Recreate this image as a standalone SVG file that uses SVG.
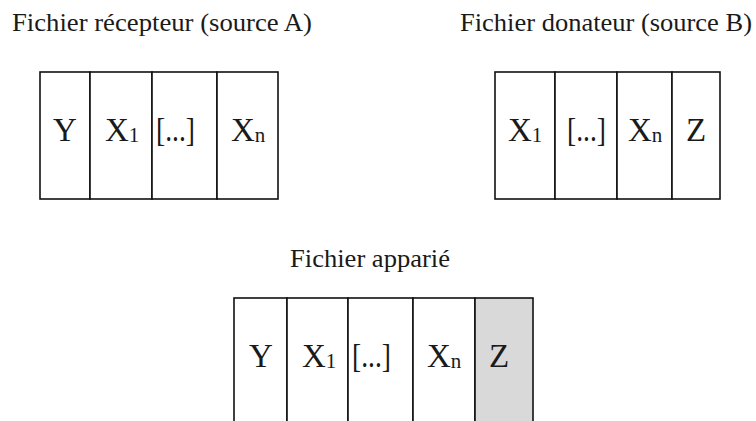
<svg xmlns="http://www.w3.org/2000/svg" width="756" height="421" viewBox="0 0 756 421">
<style>
.t{font-family:"Liberation Serif","Times New Roman",serif;font-size:25px;fill:#1a1a1a}
.l{font-family:"Liberation Serif","Times New Roman",serif;font-size:33px;fill:#1a1a1a}
.s{font-size:21px}
.c{fill:#fff;stroke:#111;stroke-width:1.6}
.g{fill:#d9d9d9;stroke:#111;stroke-width:1.6}
</style>
<rect width="756" height="421" fill="#fff"/>
<g id="source-a">
<text class="t" x="12" y="31" textLength="300" lengthAdjust="spacingAndGlyphs">Fichier récepteur (source A)</text>
<rect class="c" x="40" y="72" width="50" height="127"/>
<rect class="c" x="90" y="72" width="62" height="127"/>
<rect class="c" x="152" y="72" width="65" height="127"/>
<rect class="c" x="217" y="72" width="61" height="127"/>
<text class="l" x="65" y="141" text-anchor="middle">Y</text>
<text class="l" x="105" y="141">X<tspan class="s" dy="1">1</tspan></text>
<text class="l" x="156" y="141" textLength="39" lengthAdjust="spacingAndGlyphs">[...]</text>
<text class="l" x="231" y="141">X<tspan class="s" dy="1">n</tspan></text>
</g>
<g id="source-b">
<text class="t" x="460" y="31" textLength="292" lengthAdjust="spacingAndGlyphs">Fichier donateur (source B)</text>
<rect class="c" x="495" y="72" width="60" height="127"/>
<rect class="c" x="555" y="72" width="62" height="127"/>
<rect class="c" x="617" y="72" width="55" height="127"/>
<rect class="c" x="672" y="72" width="48" height="127"/>
<text class="l" x="508" y="141">X<tspan class="s" dy="1">1</tspan></text>
<text class="l" x="567" y="141" textLength="39" lengthAdjust="spacingAndGlyphs">[...]</text>
<text class="l" x="628" y="141">X<tspan class="s" dy="1">n</tspan></text>
<text class="l" x="696" y="141" text-anchor="middle">Z</text>
</g>
<g id="fichier-apparie">
<text class="t" x="290" y="267" textLength="160" lengthAdjust="spacingAndGlyphs">Fichier apparié</text>
<rect class="c" x="234" y="298" width="53" height="130"/>
<rect class="c" x="287" y="298" width="61" height="130"/>
<rect class="c" x="348" y="298" width="65" height="130"/>
<rect class="c" x="413" y="298" width="62" height="130"/>
<rect class="g" x="475" y="298" width="58" height="130"/>
<text class="l" x="261" y="367" text-anchor="middle">Y</text>
<text class="l" x="302" y="367">X<tspan class="s" dy="1">1</tspan></text>
<text class="l" x="352" y="367" textLength="39" lengthAdjust="spacingAndGlyphs">[...]</text>
<text class="l" x="427" y="367">X<tspan class="s" dy="1">n</tspan></text>
<text class="l" x="499" y="367" text-anchor="middle">Z</text>
</g>
<g id="connectors"/>
</svg>
